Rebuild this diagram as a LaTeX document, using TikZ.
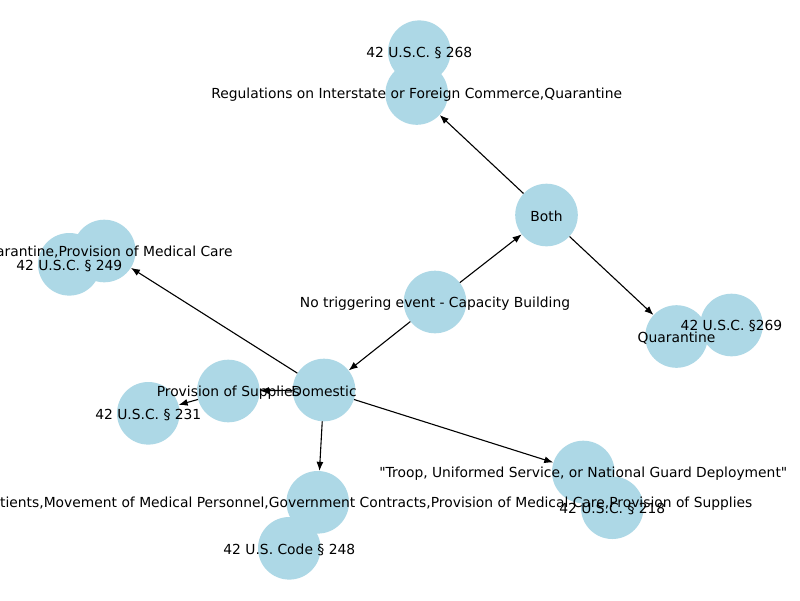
\documentclass[tikz,border=0pt]{standalone}
\usepackage{fontspec}
\setmainfont{DejaVu Sans}[Ligatures=TeXOff]
\usetikzlibrary{arrows.meta}
\definecolor{nodeblue}{RGB}{173,216,230}
\tikzset{
  gnode/.style={circle, fill=nodeblue, minimum size=62.6pt, inner sep=0pt, draw=none},
  glabel/.style={inner sep=0pt, font=\fontsize{13.85}{16}\selectfont, text=black, yshift=-1.5pt},
  gedge/.style={-{Latex[length=9pt,width=7pt]}, line width=1.1pt, draw=black}
}
\begin{document}
\begin{tikzpicture}[x=1pt,y=-1pt]
\useasboundingbox (0,0) rectangle (800,600);
\fill[white] (0,0) rectangle (800,600);
% circles
\node[gnode] (n268) at (419.3,51.7) {};
\node[gnode] (reg) at (416.7,93.5) {};
\node[gnode] (both) at (546.5,215) {};
\node[gnode] (cap) at (435,302) {};
\node[gnode] (quar) at (676.5,336.5) {};
\node[gnode] (n269) at (731.5,325) {};
\node[gnode] (n249) at (69.3,264.3) {};
\node[gnode] (qpmc) at (104.3,251) {};
\node[gnode] (dom) at (324,390) {};
\node[gnode] (sup) at (228.3,391) {};
\node[gnode] (n231) at (148.3,413.3) {};
\node[gnode] (troop) at (583.3,472) {};
\node[gnode] (n218) at (612.3,507.7) {};
\node[gnode] (long) at (317.7,502.3) {};
\node[gnode] (n248) at (289.3,548.3) {};
% edges
\draw[gedge] (cap) -- (both);
\draw[gedge] (cap) -- (dom);
\draw[gedge] (both) -- (reg);
\draw[gedge] (both) -- (quar);
\draw[gedge] (dom) -- (qpmc);
\draw[gedge] (dom) -- (sup);
\draw[gedge] (sup) -- (n231);
\draw[gedge] (dom) -- (troop);
\draw[gedge] (dom) -- (long);
% labels
\node[glabel] (l268) at (n268) {42 U.S.C. § 268};
\node[glabel] (lreg) at (reg) {Regulations on Interstate or Foreign Commerce,Quarantine};
\node[glabel] (lboth) at (both) {Both};
\node[glabel] (lcap) at (cap) {No triggering event - Capacity Building};
\node[glabel] (lquar) at (quar) {Quarantine};
\node[glabel] (l269) at (n269) {42 U.S.C. §269};
\node[glabel, anchor=east] (lqpmc) at (232.8,251) {arantine,Provision of Medical Care};
\node[glabel] (l249) at (n249) {42 U.S.C. § 249};
\node[glabel] (ldom) at (dom) {Domestic};
\node[glabel] (lsup) at (sup) {Provision of Supplies};
\node[glabel] (l231) at (n231) {42 U.S.C. § 231};
\node[glabel] (ltroop) at (troop) {"Troop, Uniformed Service, or National Guard Deployment"};
\node[glabel, anchor=east] (llong) at (752.5,502.3) {tients,Movement of Medical Personnel,Government Contracts,Provision of Medical Care,Provision of Supplies};
\node[glabel] (l218) at (n218) {42 U.S.C. § 218};
\node[glabel] (l248) at (n248) {42 U.S. Code § 248};
\end{tikzpicture}
\end{document}
